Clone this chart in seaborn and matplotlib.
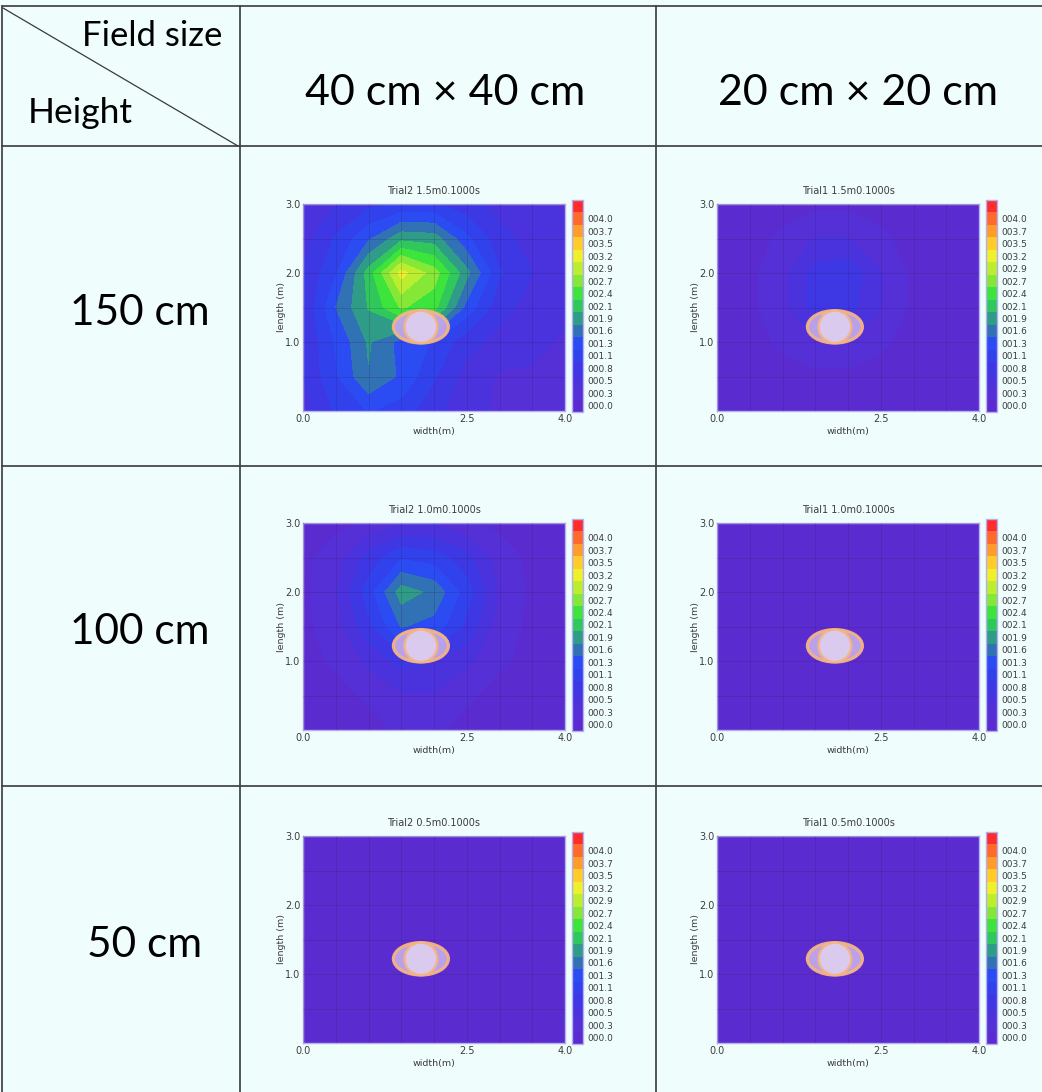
import numpy as np
import matplotlib
matplotlib.use("Agg")
import matplotlib.pyplot as plt
import seaborn as sns
from matplotlib.colors import ListedColormap, BoundaryNorm
from matplotlib.patches import Ellipse
from matplotlib.lines import Line2D
from matplotlib.ticker import MultipleLocator

# ---- data -------------------------------------------------------------
col_labels = ["40 cm × 40 cm", "20 cm × 20 cm"]
row_labels = ["150 cm", "100 cm", "50 cm"]
titles = [["Trial2 1.5m0.1000s", "Trial1 1.5m0.1000s"],
          ["Trial2 1.0m0.1000s", "Trial1 1.0m0.1000s"],
          ["Trial2 0.5m0.1000s", "Trial1 0.5m0.1000s"]]

grid_x = [0.0, 0.5, 1.0, 1.5, 2.0, 2.5, 3.0, 3.5, 4.0]
grid_y = [0.0, 0.5, 1.0, 1.5, 2.0, 2.5, 3.0]

# dose maps, rows = grid_y (bottom -> top), cols = grid_x
z_150_40 = [[0.7, 1.1, 1.35, 1.2, 0.9, 0.6, 0.5, 0.4, 0.4],
            [0.8, 1.3, 1.85, 1.55, 1.1, 0.7, 0.5, 0.5, 0.4],
            [0.8, 1.36, 1.9, 1.5, 1.3, 0.9, 0.7, 0.6, 0.5],
            [0.8, 1.6, 2.15, 2.7, 2.5, 1.5, 0.9, 0.7, 0.6],
            [0.8, 1.3, 2.25, 3.3, 2.8, 1.95, 1.1, 0.8, 0.6],
            [0.7, 1.1, 1.55, 2.05, 2.0, 1.4, 0.9, 0.7, 0.6],
            [0.6, 0.8, 1.0, 1.1, 1.1, 0.9, 0.7, 0.6, 0.5]]
z_150_20 = [[0.1, 0.1, 0.1, 0.1, 0.1, 0.1, 0.1, 0.1, 0.1],
            [0.1, 0.1, 0.2, 0.2, 0.2, 0.2, 0.1, 0.1, 0.1],
            [0.1, 0.2, 0.3, 0.5, 0.5, 0.3, 0.2, 0.1, 0.1],
            [0.1, 0.2, 0.45, 0.9, 0.9, 0.55, 0.2, 0.1, 0.1],
            [0.1, 0.2, 0.45, 0.9, 1.0, 0.55, 0.2, 0.1, 0.1],
            [0.1, 0.2, 0.3, 0.55, 0.55, 0.3, 0.2, 0.1, 0.1],
            [0.1, 0.1, 0.2, 0.2, 0.2, 0.2, 0.1, 0.1, 0.1]]
z_100_40 = [[0.1, 0.2, 0.2, 0.3, 0.3, 0.2, 0.2, 0.1, 0.1],
            [0.2, 0.2, 0.3, 0.5, 0.5, 0.3, 0.2, 0.2, 0.2],
            [0.2, 0.3, 0.6, 0.9, 0.8, 0.6, 0.3, 0.2, 0.2],
            [0.2, 0.4, 1.0, 1.62, 1.5, 1.0, 0.4, 0.2, 0.2],
            [0.2, 0.5, 1.2, 2.0, 1.8, 1.2, 0.5, 0.2, 0.2],
            [0.2, 0.4, 0.9, 1.3, 1.2, 0.9, 0.4, 0.2, 0.2],
            [0.2, 0.2, 0.3, 0.5, 0.5, 0.3, 0.2, 0.2, 0.2]]
z_100_20 = [[0.1, 0.1, 0.1, 0.1, 0.1, 0.1, 0.1, 0.1, 0.1],
            [0.1, 0.1, 0.1, 0.15, 0.15, 0.1, 0.1, 0.1, 0.1],
            [0.1, 0.1, 0.15, 0.2, 0.2, 0.15, 0.1, 0.1, 0.1],
            [0.1, 0.1, 0.15, 0.25, 0.25, 0.15, 0.1, 0.1, 0.1],
            [0.1, 0.1, 0.15, 0.2, 0.2, 0.15, 0.1, 0.1, 0.1],
            [0.1, 0.1, 0.1, 0.15, 0.15, 0.1, 0.1, 0.1, 0.1],
            [0.1, 0.1, 0.1, 0.1, 0.1, 0.1, 0.1, 0.1, 0.1]]
z_50_40 = [[0.1, 0.1, 0.1, 0.1, 0.1, 0.1, 0.1, 0.1, 0.1],
           [0.1, 0.1, 0.1, 0.1, 0.1, 0.1, 0.1, 0.1, 0.1],
           [0.1, 0.1, 0.1, 0.12, 0.12, 0.1, 0.1, 0.1, 0.1],
           [0.1, 0.1, 0.1, 0.12, 0.12, 0.1, 0.1, 0.1, 0.1],
           [0.1, 0.1, 0.1, 0.1, 0.1, 0.1, 0.1, 0.1, 0.1],
           [0.1, 0.1, 0.1, 0.1, 0.1, 0.1, 0.1, 0.1, 0.1],
           [0.1, 0.1, 0.1, 0.1, 0.1, 0.1, 0.1, 0.1, 0.1]]
z_50_20 = [[0.1, 0.1, 0.1, 0.1, 0.1, 0.1, 0.1, 0.1, 0.1],
           [0.1, 0.1, 0.1, 0.1, 0.1, 0.1, 0.1, 0.1, 0.1],
           [0.1, 0.1, 0.1, 0.1, 0.1, 0.1, 0.1, 0.1, 0.1],
           [0.1, 0.1, 0.1, 0.1, 0.1, 0.1, 0.1, 0.1, 0.1],
           [0.1, 0.1, 0.1, 0.1, 0.1, 0.1, 0.1, 0.1, 0.1],
           [0.1, 0.1, 0.1, 0.1, 0.1, 0.1, 0.1, 0.1, 0.1],
           [0.1, 0.1, 0.1, 0.1, 0.1, 0.1, 0.1, 0.1, 0.1]]
maps = [[z_150_40, z_150_20], [z_100_40, z_100_20], [z_50_40, z_50_20]]

level_bounds = [0.0, 0.267, 0.533, 0.8, 1.067, 1.333, 1.6, 1.867, 2.133, 2.4,
                2.667, 2.933, 3.2, 3.467, 3.733, 4.0, 4.267, 4.533]
level_labels = ["000.0", "000.3", "000.5", "000.8", "001.1", "001.3", "001.6",
                "001.9", "002.1", "002.4", "002.7", "002.9", "003.2", "003.5",
                "003.7", "004.0"]
band_colors = ["#5a2ccf", "#5430d6", "#4a33dc", "#3e37e4", "#3142ec", "#2a4cf2",
               "#3072b4", "#2e9c86", "#30c85c", "#3ce43c", "#86e836", "#bcee30",
               "#eef02a", "#ffcc2a", "#ff9c2a", "#ff6a2a", "#ff2c2c"]

# phantom (ellipse + circle) in metres
phantom_xy = (1.8, 1.22)
ellipse_wh = (0.84, 0.47)
circle_wh = (0.5, 0.47)

# ---- layout -----------------------------------------------------------
W, H = 1042, 1092
BG = "#f0fdfd"
sns.set_theme(style="white")
plt.rcParams["font.family"] = ["Lato", "DejaVu Sans"]

fig = plt.figure(figsize=(W / 100, H / 100), dpi=100, facecolor=BG)


def fx(px):
    return px / W


def fy(py):
    return 1 - py / H


def line(x0, y0, x1, y1, lw=1.2):
    fig.add_artist(Line2D([fx(x0), fx(x1)], [fy(y0), fy(y1)],
                          color="#3a3a3a", lw=lw, transform=fig.transFigure))


# table grid
for yy in [6, 146, 466, 786]:
    line(2, yy, 1042, yy)
for xx in [2, 240, 656]:
    line(xx, 6, xx, 1092)
line(3, 8, 238, 146, lw=0.9)

fig.text(fx(222), fy(36), "Field size", ha="right", va="center", fontsize=25, color="black")
fig.text(fx(28), fy(113), "Height", ha="left", va="center", fontsize=25.5, color="black")
for cx, lab in zip([445, 858], col_labels):
    fig.text(fx(cx), fy(93), lab, ha="center", va="center", fontsize=31, color="black")
for cx, cy, lab in zip([140, 140, 145], [313, 632, 945], row_labels):
    fig.text(fx(cx), fy(cy), lab, ha="center", va="center", fontsize=30.5, color="black")

cmap = ListedColormap(band_colors)
gx, gy = np.meshgrid(grid_x, grid_y)
tick_pos = [(a + b) / 2 for a, b in zip(level_bounds[:-2], level_bounds[1:-1])]

col_left = [303, 717]
row_top = [204, 523, 836]
AX_W, AX_H = 262, 207
TXT = "#3c3c3c"

for r in range(3):
    for c in range(2):
        left, top = col_left[c], row_top[r]
        ax = fig.add_axes([fx(left), fy(top + AX_H), AX_W / W, AX_H / H])
        norm = BoundaryNorm(level_bounds, cmap.N)
        z = np.array(maps[r][c])
        cs = ax.contourf(gx, gy, z, levels=level_bounds, cmap=cmap, norm=norm)
        ax.set_xlim(0, 4)
        ax.set_ylim(0, 3)
        ax.xaxis.set_minor_locator(MultipleLocator(0.5))
        ax.yaxis.set_minor_locator(MultipleLocator(0.5))
        ax.grid(which="both", color="#3a1050", alpha=0.18, lw=0.7)
        ax.set_axisbelow(False)
        ax.set_xticks([0, 2.5, 4.0])
        ax.set_xticklabels(["0.0", "2.5", "4.0"])
        ax.set_yticks([1.0, 2.0, 3.0])
        ax.set_yticklabels(["1.0", "2.0", "3.0"])
        ax.tick_params(which="both", length=0, labelsize=7, colors=TXT, pad=2)
        for lbl in ax.get_xticklabels() + ax.get_yticklabels():
            lbl.set_family("DejaVu Sans")
        for sp in ax.spines.values():
            sp.set_color("#b6aef0")
            sp.set_linewidth(1.0)
        ax.set_xlabel("width(m)", fontsize=6.8, color=TXT, labelpad=2,
                      family="DejaVu Sans")
        ax.set_ylabel("length (m)", fontsize=6.8, color=TXT, labelpad=-1,
                      family="DejaVu Sans")
        ax.set_title(titles[r][c], fontsize=7, color=TXT, pad=7,
                     family="DejaVu Sans")

        ax.add_patch(Ellipse(phantom_xy, *ellipse_wh, facecolor="#c0a8ea",
                             edgecolor="#f5b483", lw=2.3, alpha=0.95, zorder=5))
        ax.add_patch(Ellipse(phantom_xy, *circle_wh, facecolor="#dccdee",
                             edgecolor="#f5b483", lw=1.7, alpha=0.95, zorder=6))

        cax = fig.add_axes([fx(left + 269), fy(top - 4 + 212), 11 / W, 212 / H])
        cb = fig.colorbar(cs, cax=cax)
        cb.set_ticks(tick_pos, labels=level_labels)
        cb.ax.minorticks_off()
        cb.ax.tick_params(which="both", length=0, labelsize=6.5, colors=TXT, pad=3)
        for lbl in cb.ax.get_yticklabels():
            lbl.set_family("DejaVu Sans")
        cb.outline.set_edgecolor("#b6aef0")
        cb.outline.set_linewidth(1.0)

fig.savefig("out.png", dpi=100, facecolor=BG)
